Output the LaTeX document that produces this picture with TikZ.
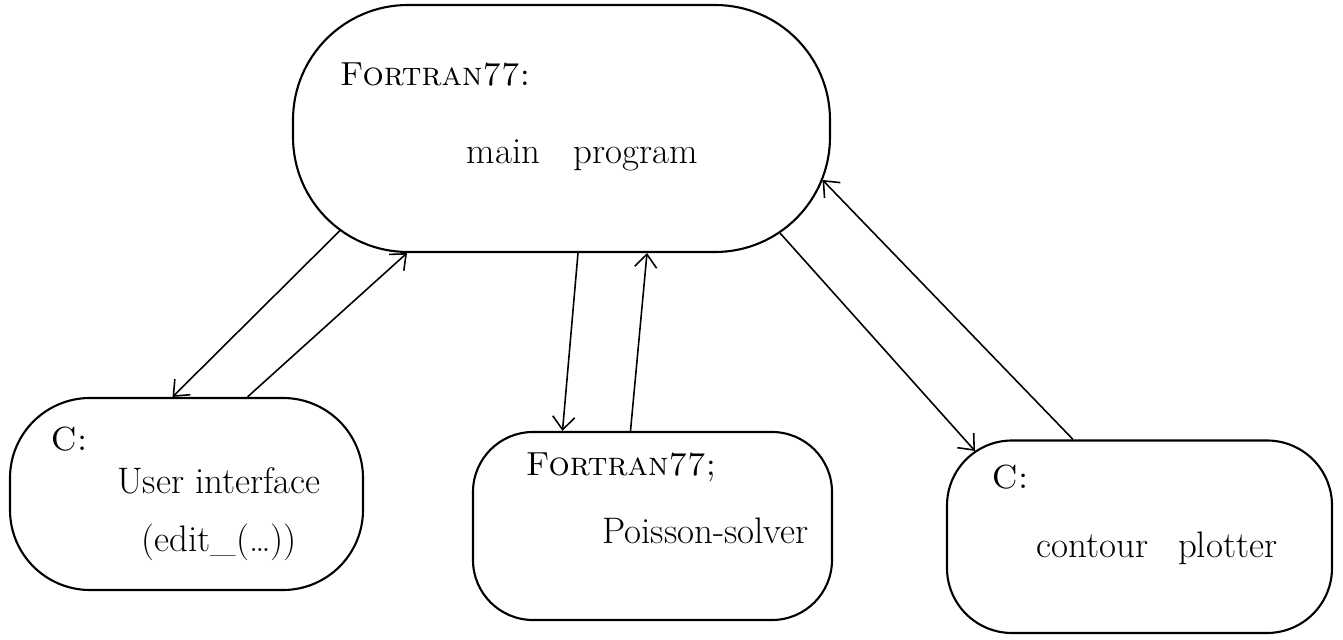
\documentclass[tikz,border=0pt]{standalone}
\usepackage{tikz}
\usetikzlibrary{arrows.meta, positioning, calc}
\tikzset{
  prog box/.style={
    rectangle, rounded corners=#1, draw=black, line width=1.2pt,
    inner sep=0pt
  },
  prog box/.default=1.5cm,
  prog lang/.style={
    font=\fontsize{19}{22}\selectfont\scshape, inner sep=1pt
  },
  prog text/.style={
    font=\fontsize{21}{25}\selectfont, inner sep=1pt, align=center
  },
  prog arrow/.style={
    -{Straight Barb[length=2.6mm, width=4.4mm]}, line width=0.9pt, draw=black
  }
}

\begin{document}
\begin{tikzpicture}
  \useasboundingbox (0,0) rectangle (26.86,12.78);

  % the four program parts
  \node (main) [prog box=2.3cm, minimum width=10.74cm, minimum height=4.94cm] at (11.23,10.21) {};
  \node (ui) [prog box=1.6cm, minimum width=7.06cm, minimum height=3.84cm] at (3.73,2.9) {};
  \node (poisson) [prog box=1.2cm, minimum width=7.18cm, minimum height=3.76cm] at (13.05,2.26) {};
  \node (contour) [prog box=1.3cm, minimum width=7.7cm, minimum height=3.85cm] at (22.79,2.045) {};

  % labels
  \node (mainlang) [prog lang] at (8.7,11.28) {Fortran77:};
  \node (maintext) [prog text] at (11.65,9.68) {main\hspace{0.6em} program};
  \node (uilang) [prog lang] at (1.38,3.99) {C:};
  \node (uitext) [prog text] at (4.38,2.5) {User interface\\[8pt](edit\_(\dots))};
  \node (poissonlang) [prog lang] at (12.42,3.44) {Fortran77;};
  \node (poissontext) [prog text] at (14.11,2.16) {Poisson-solver};
  \node (contourlang) [prog lang] at (20.2,3.24) {C:};
  \node (contourtext) [prog text] at (23.14,1.82) {contour\hspace{0.5em} plotter};

  % calls and returns
  \draw [prog arrow] ([shift={(-4.43,0.45)}]main.south) -- ([xshift=-0.28cm]ui.north);
  \draw [prog arrow] ([xshift=1.22cm]ui.north) -- ([xshift=-3.09cm]main.south);
  \draw [prog arrow] ([xshift=0.33cm]main.south) -- ([xshift=-1.8cm]poisson.north);
  \draw [prog arrow] ([xshift=-0.44cm]poisson.north) -- ([xshift=1.71cm]main.south);
  \draw [prog arrow] ([shift={(4.37,0.4)}]main.south) -- ([shift={(-3.29,-0.23)}]contour.north);
  \draw [prog arrow] ([xshift=-1.33cm]contour.north) -- ([shift={(-0.17,-1.03)}]main.east);
\end{tikzpicture}
\end{document}
